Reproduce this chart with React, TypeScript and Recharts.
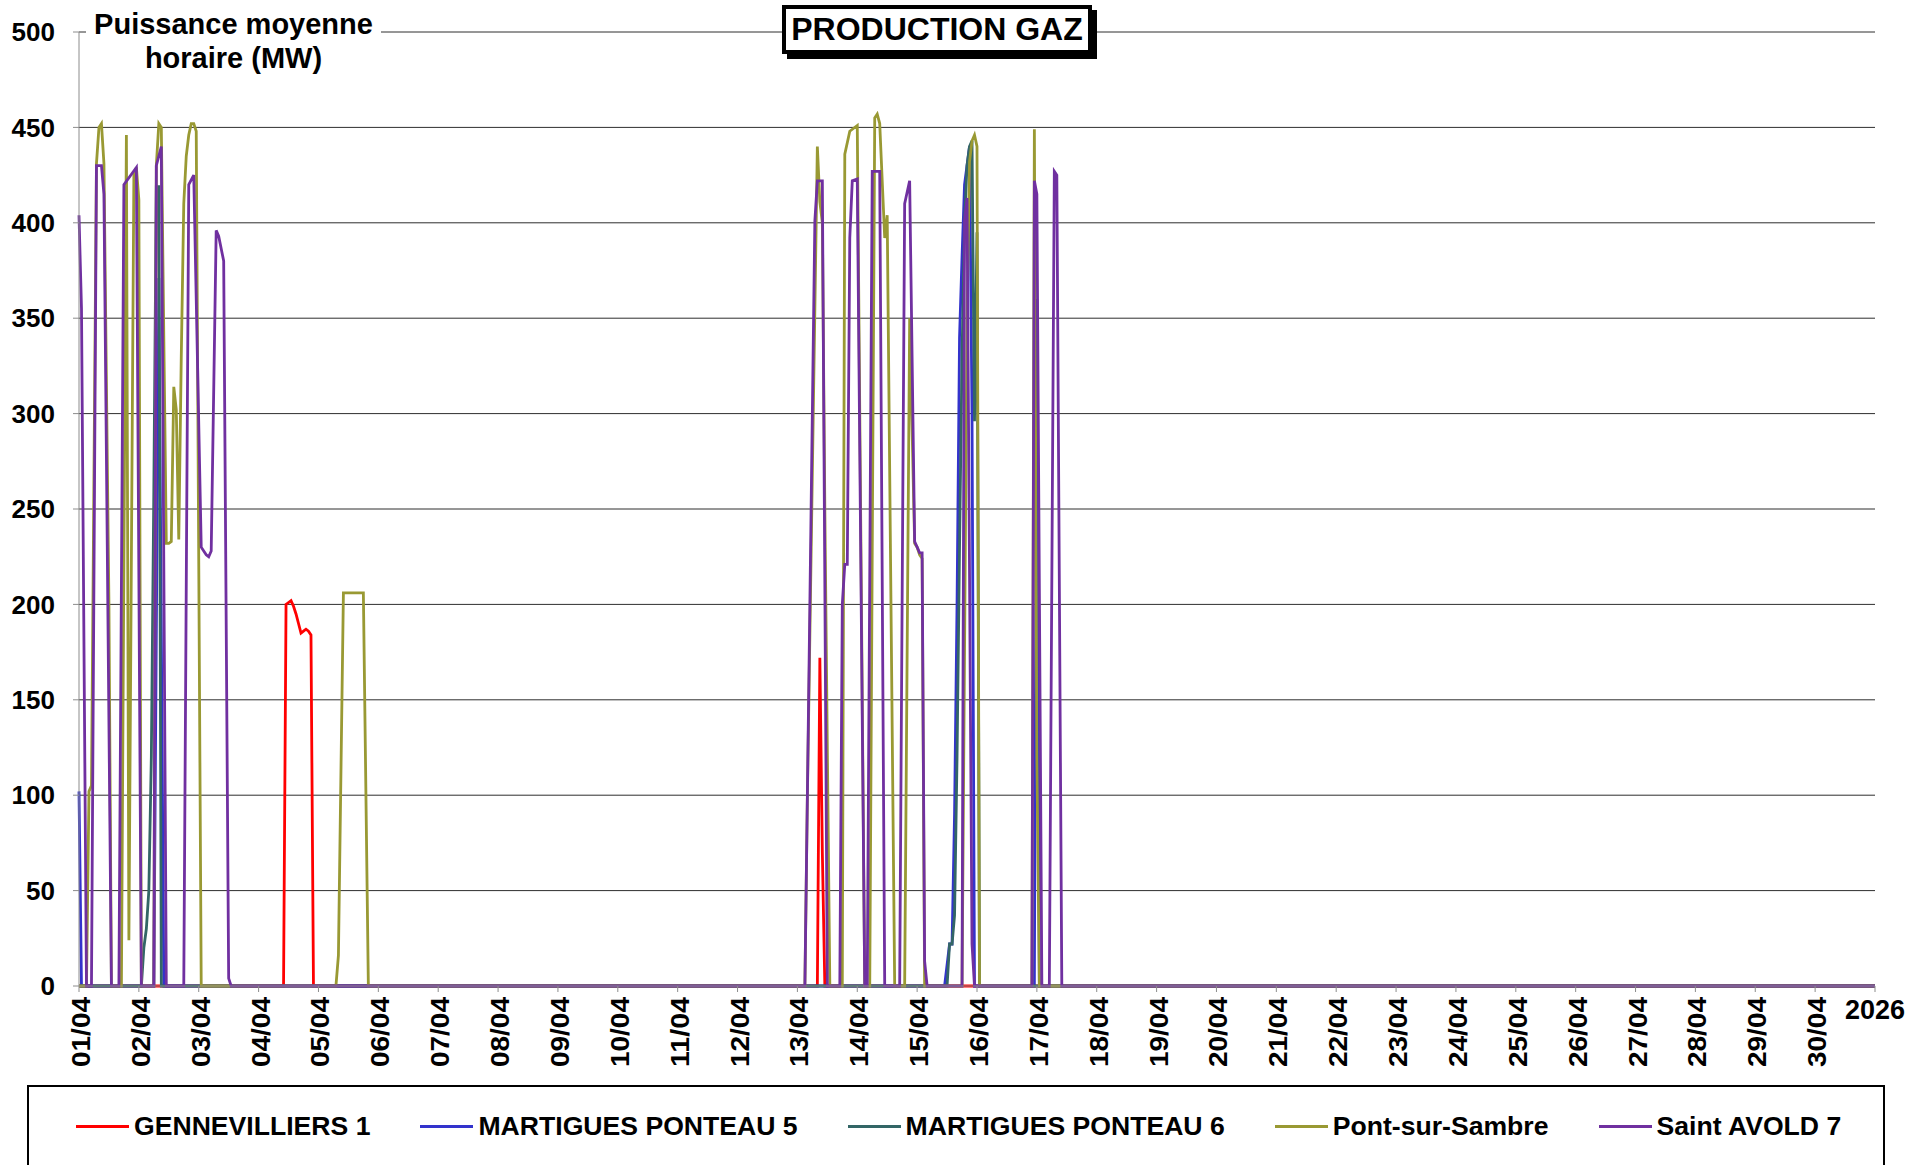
import { LineChart, Line, XAxis, YAxis, CartesianGrid } from 'recharts';

// hourly mean power (MW), April 2026 — [hour index from 01/04 00h, MW]
// only the hours where the curve changes are listed, zero elsewhere
const gennevilliersPts: [number, number][] = [
  [0, 0], [82, 0], [83, 200], [84, 201], [85, 202], [86, 199], [87, 195], [88, 190],
  [89, 185], [90, 186], [91, 187], [92, 186], [93, 184], [94, 0],
  [296, 0], [297, 172], [298, 70], [299, 0], [720, 0],
];

const ponteau5Pts: [number, number][] = [
  [0, 102], [1, 0], [30, 0], [32, 371], [34, 0],
  [347, 0], [349, 22], [350, 22], [351, 90], [352, 200], [353, 340], [354, 382],
  [355, 420], [357, 440], [358, 300], [359, 0],
  [383, 0], [384, 360], [385, 0], [720, 0],
];

const ponteau6Pts: [number, number][] = [
  [0, 0], [25, 0], [26, 20], [27, 30], [28, 50], [29, 120], [30, 260], [31, 419],
  [32, 419], [33, 0],
  [348, 0], [349, 22], [350, 22], [351, 37], [352, 120], [353, 230], [354, 330],
  [355, 400], [356, 430], [357, 440], [358, 443], [359, 296], [360, 395], [361, 0],
  [720, 0],
];

const pontSurSambrePts: [number, number][] = [
  [0, 0], [3, 0], [4, 102], [5, 105], [7, 431], [8, 450], [9, 452], [10, 431], [12, 200], [13, 0],
  [17, 0], [19, 446], [20, 24], [22, 425], [23, 429], [24, 412], [25, 0],
  [30, 0], [31, 430], [32, 452], [33, 450], [34, 340], [35, 232], [36, 232], [37, 233],
  [38, 314], [39, 302], [40, 234], [41, 330], [42, 410], [43, 435], [44, 446], [45, 452],
  [46, 452], [47, 448], [49, 0],
  [103, 0], [104, 16], [106, 206], [114, 206], [116, 0],
  [291, 0], [292, 99], [296, 440], [297, 411], [298, 400], [299, 250], [301, 0],
  [306, 0], [307, 436], [309, 448], [312, 451], [315, 0],
  [317, 0], [319, 455], [320, 457], [321, 452], [323, 392], [324, 404], [327, 0],
  [331, 0], [333, 350], [335, 232], [336, 230], [337, 226], [338, 224], [339, 0],
  [354, 0], [356, 350], [357, 432], [358, 443], [359, 446], [360, 440], [361, 0],
  [382, 0], [383, 449], [384, 120], [385, 0], [720, 0],
];

const saintAvoldPts: [number, number][] = [
  [0, 404], [1, 355], [3, 0], [5, 0], [7, 430], [9, 430], [10, 415], [13, 0],
  [16, 0], [18, 420], [23, 429], [25, 0],
  [30, 0], [31, 430], [33, 440], [35, 0],
  [42, 0], [44, 420], [46, 425], [49, 230], [50, 228], [51, 226], [52, 225], [53, 228],
  [55, 396], [56, 393], [58, 380], [60, 4], [61, 0],
  [291, 0], [292, 100], [295, 401], [296, 422], [298, 422], [300, 0],
  [305, 0], [306, 200], [307, 221], [308, 221], [309, 392], [310, 422], [312, 423], [315, 0],
  [316, 0], [318, 427], [321, 427], [323, 0],
  [329, 0], [331, 410], [333, 422], [335, 233], [336, 230], [337, 227], [338, 227], [339, 13], [340, 0],
  [354, 0], [355, 401], [356, 413], [358, 22], [359, 0],
  [382, 0], [383, 422], [384, 415], [386, 0],
  [389, 0], [391, 427], [392, 425], [394, 0], [720, 0],
];

const dayLabels = [
  '01/04', '02/04', '03/04', '04/04', '05/04', '06/04', '07/04', '08/04', '09/04', '10/04',
  '11/04', '12/04', '13/04', '14/04', '15/04', '16/04', '17/04', '18/04', '19/04', '20/04',
  '21/04', '22/04', '23/04', '24/04', '25/04', '26/04', '27/04', '28/04', '29/04', '30/04',
];
const yearLabel = '2026';
const yTicks = [0, 50, 100, 150, 200, 250, 300, 350, 400, 450, 500];

const series = [
  { name: 'GENNEVILLIERS 1', color: '#ff0000', pts: gennevilliersPts },
  { name: 'MARTIGUES PONTEAU 5', color: '#3333cc', pts: ponteau5Pts },
  { name: 'MARTIGUES PONTEAU 6', color: '#336666', pts: ponteau6Pts },
  { name: 'Pont-sur-Sambre', color: '#999933', pts: pontSurSambrePts },
  { name: 'Saint AVOLD 7', color: '#7030a0', pts: saintAvoldPts },
];

const FONT = "'Liberation Sans', Arial, sans-serif";
const xTicks = [...dayLabels.map((_, i) => i * 24), dayLabels.length * 24];

const DayTick = (props: any) => {
  const { x, y, payload } = props;
  const i = Math.round(payload.value / 24);
  const style = { fontFamily: FONT, fontWeight: 700, fill: '#000' };
  if (i >= dayLabels.length) {
    return (
      <text x={x} y={y + 22} textAnchor="middle" fontSize={27} {...style}>
        {yearLabel}
      </text>
    );
  }
  const tx = x + 2;
  return (
    <text
      x={tx}
      y={y}
      transform={`rotate(-90 ${tx} ${y})`}
      textAnchor="end"
      dominantBaseline="central"
      fontSize={26}
      textLength={70}
      lengthAdjust="spacingAndGlyphs"
      {...style}
    >
      {dayLabels[i]}
    </text>
  );
};

export default function App() {
  return (
    <div style={{ position: 'absolute', left: 0, top: 0, width: 1925, height: 1165, background: '#fff', overflow: 'hidden', fontFamily: FONT }}>
      <LineChart width={1925} height={1165} margin={{ top: 32, right: 50, bottom: 79, left: 19 }}>
        <CartesianGrid vertical={false} stroke="#2e2e2e" strokeWidth={1} />
        <XAxis
          type="number"
          dataKey="h"
          domain={[0, 720]}
          ticks={xTicks}
          interval={0}
          height={100}
          tick={<DayTick />}
          tickSize={6}
          tickMargin={5}
          stroke="#8c8c8c"
        />
        <YAxis
          type="number"
          domain={[0, 500]}
          ticks={yTicks}
          interval={0}
          width={60}
          tickSize={6}
          tickMargin={18}
          stroke="#8c8c8c"
          tick={{ fill: '#000', fontSize: 26, fontWeight: 700, fontFamily: FONT }}
        />
        {series.map((s) => (
          <Line
            key={s.name}
            name={s.name}
            data={s.pts.map(([h, v]) => ({ h, v }))}
            dataKey="v"
            type="linear"
            stroke={s.color}
            strokeWidth={2.8}
            dot={false}
            activeDot={false}
            isAnimationActive={false}
          />
        ))}
      </LineChart>

      <div style={{ position: 'absolute', left: 86, top: 7, width: 295, background: '#fff', textAlign: 'center', fontSize: 29, fontWeight: 700, lineHeight: '34px', color: '#000' }}>
        Puissance moyenne<br />horaire (MW)
      </div>

      <div style={{ position: 'absolute', left: 782, top: 5, width: 310, height: 49, boxSizing: 'border-box', border: '4px solid #000', background: '#fff', boxShadow: '5px 5px 0 #000', textAlign: 'center', fontSize: 32, fontWeight: 700, lineHeight: '41px', color: '#000' }}>
        PRODUCTION GAZ
      </div>

      <div style={{ position: 'absolute', left: 27, top: 1085, width: 1858, height: 120, boxSizing: 'border-box', border: '2px solid #000', background: '#fff' }}>
        <div style={{ display: 'flex', alignItems: 'center', gap: 50, paddingLeft: 47, marginTop: 22 }}>
          {series.map((s) => (
            <div key={s.name} style={{ display: 'flex', alignItems: 'center', gap: 5 }}>
              <div style={{ width: 53, height: 3, background: s.color }} />
              <span style={{ fontSize: 26.6, fontWeight: 700, color: '#000', lineHeight: '34px' }}>{s.name}</span>
            </div>
          ))}
        </div>
      </div>
    </div>
  );
}
